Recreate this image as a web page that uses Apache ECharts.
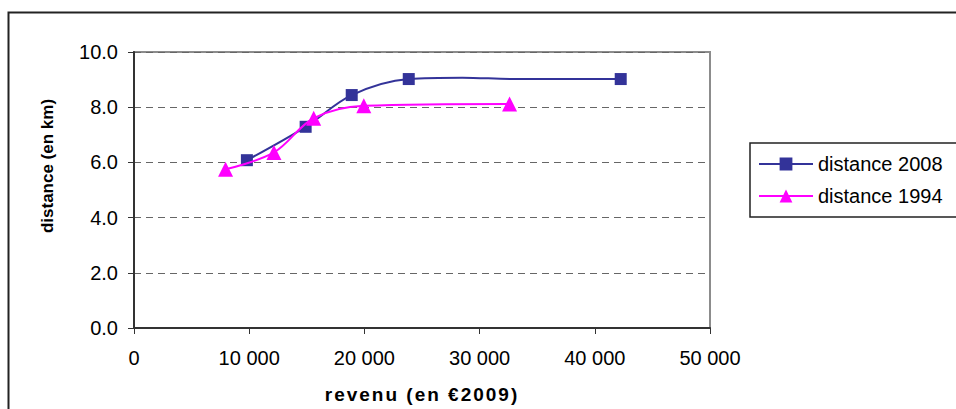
<!DOCTYPE html>
<html>
<head>
<meta charset="utf-8">
<title>distance / revenu</title>
<script src="https://cdn.jsdelivr.net/npm/echarts@6/dist/echarts.min.js"></script>
<style>
  html, body { margin: 0; padding: 0; background: #fff; }
  #chart { width: 956px; height: 409px; }
</style>
</head>
<body>
<div id="chart"></div>
<script>
// Revenue (euros 2009) and commuting distance (km) for each survey year
var revenu2008 = [9800, 14900, 18900, 23850, 28500, 33000, 42250];
var distance2008 = [6.08, 7.29, 8.44, 9.02, 9.07, 9.02, 9.02];
var marker2008 = [true, true, true, true, false, false, true];

var revenu1994 = [7950, 12150, 15600, 19950, 32600];
var distance1994 = [5.75, 6.36, 7.6, 8.05, 8.12];

var yTicks = [0, 2, 4, 6, 8, 10];
var xTicks = [0, 10000, 20000, 30000, 40000, 50000];

var seriesNames = ['distance 2008', 'distance 1994'];
var xTitle = 'revenu (en €2009)';
var yTitle = 'distance (en km)';

var FONT = '"Liberation Sans", Arial, sans-serif';

function fmtThousands(v) {
  return String(v).replace(/\B(?=(\d{3})+(?!\d))/g, ' ');
}

var pts2008 = revenu2008.map(function (x, i) {
  var p = { value: [x, distance2008[i]] };
  if (!marker2008[i]) { p.symbol = 'none'; }
  return p;
});
var pts1994 = revenu1994.map(function (x, i) { return [x, distance1994[i]]; });

var chart = echarts.init(document.getElementById('chart'), null, { renderer: 'svg' });

chart.setOption({
  animation: false,
  backgroundColor: '#fff',
  textStyle: { fontFamily: FONT },
  grid: {
    left: 134, top: 52, width: 576, height: 276,
    containLabel: false, outerBoundsMode: 'none',
    show: true, borderColor: '#8c8c8c', borderWidth: 2, backgroundColor: 'transparent'
  },
  legend: {
    orient: 'vertical',
    left: 750, top: 143,
    data: seriesNames,
    borderColor: '#222', borderWidth: 1.5,
    padding: [11, 40, 11, 8],
    itemWidth: 54, itemHeight: 16, itemGap: 12,
    textStyle: { fontFamily: FONT, fontSize: 20, color: '#000' }
  },
  xAxis: {
    type: 'value',
    min: xTicks[0], max: xTicks[xTicks.length - 1], interval: xTicks[1] - xTicks[0],
    name: xTitle, nameLocation: 'middle', nameGap: 57,
    nameTextStyle: { fontFamily: FONT, fontSize: 19, fontWeight: 'bold', color: '#000' },
    axisLine: { show: true, lineStyle: { color: '#333', width: 2 } },
    axisTick: { show: true, length: 6, lineStyle: { color: '#333', width: 1 } },
    axisLabel: {
      margin: 20, fontFamily: FONT, fontSize: 20, color: '#000',
      formatter: function (v) { return fmtThousands(v); }
    },
    splitLine: { show: false }
  },
  yAxis: {
    type: 'value',
    min: yTicks[0], max: yTicks[yTicks.length - 1], interval: yTicks[1] - yTicks[0],
    axisLine: { show: true, lineStyle: { color: '#333', width: 2 } },
    axisTick: { show: true, length: 6, lineStyle: { color: '#333', width: 1 } },
    axisLabel: {
      margin: 16, fontFamily: FONT, fontSize: 20, color: '#000',
      formatter: function (v) { return v.toFixed(1); }
    },
    splitLine: { show: true, lineStyle: { color: '#666', width: 1, type: [7, 5] } }
  },
  graphic: [
    {
      type: 'rect', silent: true, z: 100,
      shape: { x: 8.5, y: 12.5, width: 1200, height: 600 },
      style: { fill: 'none', stroke: '#222', lineWidth: 2 }
    },
    {
      type: 'text', silent: true,
      x: 47, y: 166, rotation: Math.PI / 2,
      style: {
        text: yTitle, fontFamily: FONT, fontSize: 17, fontWeight: 'bold',
        fill: '#000', align: 'center', verticalAlign: 'middle'
      }
    }
  ],
  series: [
    {
      name: seriesNames[0], type: 'line', smooth: 0.35,
      data: pts2008,
      symbol: 'rect', symbolSize: 12,
      itemStyle: { color: '#333399' },
      lineStyle: { color: '#333399', width: 2 },
      z: 3
    },
    {
      name: seriesNames[1], type: 'line', smooth: 0.35,
      data: pts1994,
      symbol: 'triangle', symbolSize: 15,
      itemStyle: { color: '#ff00ff' },
      lineStyle: { color: '#ff00ff', width: 2 },
      z: 4
    }
  ]
});

// widen the tracking of the horizontal axis title
Array.prototype.forEach.call(document.querySelectorAll('#chart svg text'), function (t) {
  if (t.textContent === xTitle) {
    t.setAttribute('letter-spacing', '2');
  }
});
</script>
</body>
</html>
